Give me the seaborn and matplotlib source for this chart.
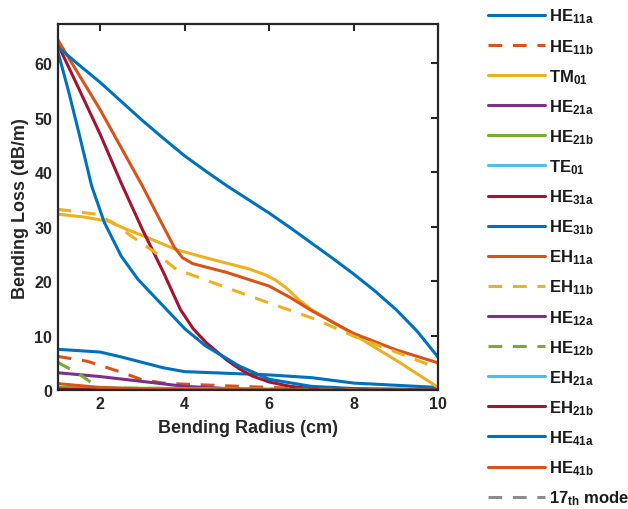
import matplotlib
matplotlib.use("Agg")
import matplotlib.pyplot as plt
import seaborn as sns
import pandas as pd

# Bending loss (dB/m) versus bending radius (cm) for each guided mode
he11a_x = [1, 2, 2.5, 3, 3.5, 4, 5, 6, 7, 8, 9, 10]
he11a_y = [7.5, 7.0, 6.1, 5.1, 4.1, 3.4, 3.1, 2.8, 2.3, 1.3, 0.9, 0.5]

he11b_x = [1, 1.7, 2.5, 3, 3.5, 4, 5, 6, 7, 8, 10]
he11b_y = [6.2, 5.3, 3.3, 1.9, 1.3, 1.1, 0.8, 0.5, 0.3, 0.1, 0.0]

tm01_x = [1, 1.6, 2.2, 2.6, 3, 3.8, 4.5, 5.5, 5.9, 6.15, 6.4, 6.7, 7, 8, 9, 10]
tm01_y = [32.3, 31.8, 31.0, 29.6, 28.4, 25.8, 24.3, 22.3, 21.2, 20.2, 18.8, 16.6, 14.8, 10.2, 5.5, 0.5]

he21a_x = [1, 2, 3, 4, 5, 6, 10]
he21a_y = [3.2, 2.5, 1.6, 0.7, 0.3, 0.1, 0.0]

he21b_x = [1, 2, 4, 6, 8, 10]
he21b_y = [0.5, 0.4, 0.3, 0.2, 0.1, 0.0]

te01_x = [1, 4, 7, 10]
te01_y = [0.0, 0.0, 0.0, 0.0]

he31a_x = [1, 1.5, 2, 2.5, 3, 3.5, 3.9, 4.2, 4.5, 5, 5.3, 5.6, 6, 6.5, 7, 8, 10]
he31a_y = [63.5, 55.3, 47.0, 38.0, 29.5, 21.6, 14.8, 11.3, 8.8, 5.5, 3.9, 2.6, 1.5, 0.7, 0.3, 0.1, 0.0]

he31b_x = [1, 1.25, 1.5, 1.8, 2.1, 2.5, 2.9, 3.5, 4, 4.5, 5.3, 6, 7, 8, 10]
he31b_y = [62.2, 55.0, 47.2, 37.5, 30.8, 24.6, 20.3, 15.4, 11.3, 8.1, 4.4, 2.0, 0.7, 0.3, 0.1]

eh11a_x = [1, 2, 3, 3.5, 3.75, 3.95, 4.2, 4.5, 5, 6, 6.5, 7, 8, 9, 10]
eh11a_y = [64.3, 51.5, 37.5, 30.0, 26.3, 24.3, 23.2, 22.6, 21.6, 19.1, 17.0, 14.6, 10.4, 7.4, 5.0]

eh11b_x = [1, 1.9, 2.3, 2.7, 3.3, 3.8, 4.4, 5.6, 7.1, 8, 9, 10]
eh11b_y = [33.2, 32.3, 30.8, 28.5, 25.3, 22.2, 20.5, 17.1, 13.0, 9.9, 7.0, 4.0]

he12a_x = [1, 4, 7, 10]
he12a_y = [0.0, 0.0, 0.0, 0.0]

he12b_x = [1, 1.5, 1.9, 2, 4, 10]
he12b_y = [5.1, 3.0, 0.8, 0.4, 0.3, 0.0]

eh21a_x = [1, 4, 7, 10]
eh21a_y = [0.0, 0.0, 0.0, 0.0]

eh21b_x = [1, 2, 4, 10]
eh21b_y = [0.2, 0.05, 0.0, 0.0]

he41a_x = [1, 1.5, 2, 2.5, 3, 3.5, 4, 4.5, 5, 5.5, 6, 6.5, 7, 7.5, 8, 8.5, 9, 9.5, 10]
he41a_y = [63.0, 59.7, 56.5, 53.0, 49.5, 46.2, 43.0, 40.2, 37.5, 35.0, 32.5, 29.8, 27.0,
           24.2, 21.3, 18.2, 14.8, 10.8, 6.0]

he41b_x = [1, 2, 3, 4, 6, 10]
he41b_y = [1.2, 0.5, 0.2, 0.1, 0.0, 0.0]

mode17_x = [1, 4, 7, 10]
mode17_y = [0.0, 0.0, 0.0, 0.0]

labels = [r"$\mathbf{HE_{11a}}$", r"$\mathbf{HE_{11b}}$", r"$\mathbf{TM_{01}}$",
          r"$\mathbf{HE_{21a}}$", r"$\mathbf{HE_{21b}}$", r"$\mathbf{TE_{01}}$",
          r"$\mathbf{HE_{31a}}$", r"$\mathbf{HE_{31b}}$", r"$\mathbf{EH_{11a}}$",
          r"$\mathbf{EH_{11b}}$", r"$\mathbf{HE_{12a}}$", r"$\mathbf{HE_{12b}}$",
          r"$\mathbf{EH_{21a}}$", r"$\mathbf{EH_{21b}}$", r"$\mathbf{HE_{41a}}$",
          r"$\mathbf{HE_{41b}}$", r"$\mathbf{17_{th}}$ mode"]

xs = [he11a_x, he11b_x, tm01_x, he21a_x, he21b_x, te01_x, he31a_x, he31b_x,
      eh11a_x, eh11b_x, he12a_x, he12b_x, eh21a_x, eh21b_x, he41a_x, he41b_x, mode17_x]
ys = [he11a_y, he11b_y, tm01_y, he21a_y, he21b_y, te01_y, he31a_y, he31b_y,
      eh11a_y, eh11b_y, he12a_y, he12b_y, eh21a_y, eh21b_y, he41a_y, he41b_y, mode17_y]

blue, orange, yellow = "#0072BD", "#D95319", "#EDB120"
purple, green, cyan, red = "#7E2F8E", "#77AC30", "#4DBEEE", "#A2142F"
colors = [blue, orange, yellow, purple, green, cyan, red, blue, orange, yellow,
          purple, green, cyan, red, blue, orange, "#8C8C8C"]
dashed = [False, True, False, False, False, False, False, False, False, True,
          False, True, False, False, False, False, True]

sns.set_style("white")
plt.rcParams["font.family"] = ["Liberation Sans", "DejaVu Sans"]
plt.rcParams["font.weight"] = "bold"
plt.rcParams["mathtext.fontset"] = "custom"
plt.rcParams["mathtext.rm"] = "Liberation Sans:bold"
plt.rcParams["mathtext.bf"] = "Liberation Sans:bold"
plt.rcParams["mathtext.it"] = "Liberation Sans:bold"

fig = plt.figure(figsize=(6.28, 5.10), dpi=100)
ax = fig.add_axes([0.092, 0.233, 0.606, 0.718])

for i, (x, y) in enumerate(zip(xs, ys)):
    df = pd.DataFrame({"radius": x, "loss": y})
    ls = (0, (4.5, 3.5)) if dashed[i] else "-"
    z = 1 if i == len(xs) - 1 else 2 + i * 0.01
    sns.lineplot(data=df, x="radius", y="loss", ax=ax, color=colors[i],
                 linestyle=ls, linewidth=2.2, label=labels[i], zorder=z,
                 estimator=None, sort=False)

ax.set_xlim(1, 10)
ax.set_ylim(0, 67.2)
ax.set_xticks([2, 4, 6, 8, 10])
ax.set_yticks([0, 10, 20, 30, 40, 50, 60])
ax.tick_params(direction="in", top=True, right=True, length=5, width=1.5,
               labelsize=11.5, pad=4, colors="#262626", labelcolor="#262626")
for lab in ax.get_xticklabels() + ax.get_yticklabels():
    lab.set_fontweight("bold")
for s in ax.spines.values():
    s.set_linewidth(1.6)
    s.set_color("#262626")
    s.set_visible(True)

ax.set_xlabel("Bending Radius (cm)", fontsize=13, fontweight="bold", color="#262626", labelpad=6)
ax.set_ylabel("Bending Loss (dB/m)", fontsize=13, fontweight="bold", color="#262626", labelpad=4)

handles, labs = ax.get_legend_handles_labels()
leg = ax.legend(handles, labs, loc="upper left", bbox_to_anchor=(0.766, 0.998),
                bbox_transform=fig.transFigure, frameon=False, fontsize=12,
                handlelength=3.45, handletextpad=0.2, labelspacing=0.685,
                borderaxespad=0)
for t in leg.get_texts():
    t.set_color("#1a1a1a")

fig.savefig("out.png", dpi=100)
